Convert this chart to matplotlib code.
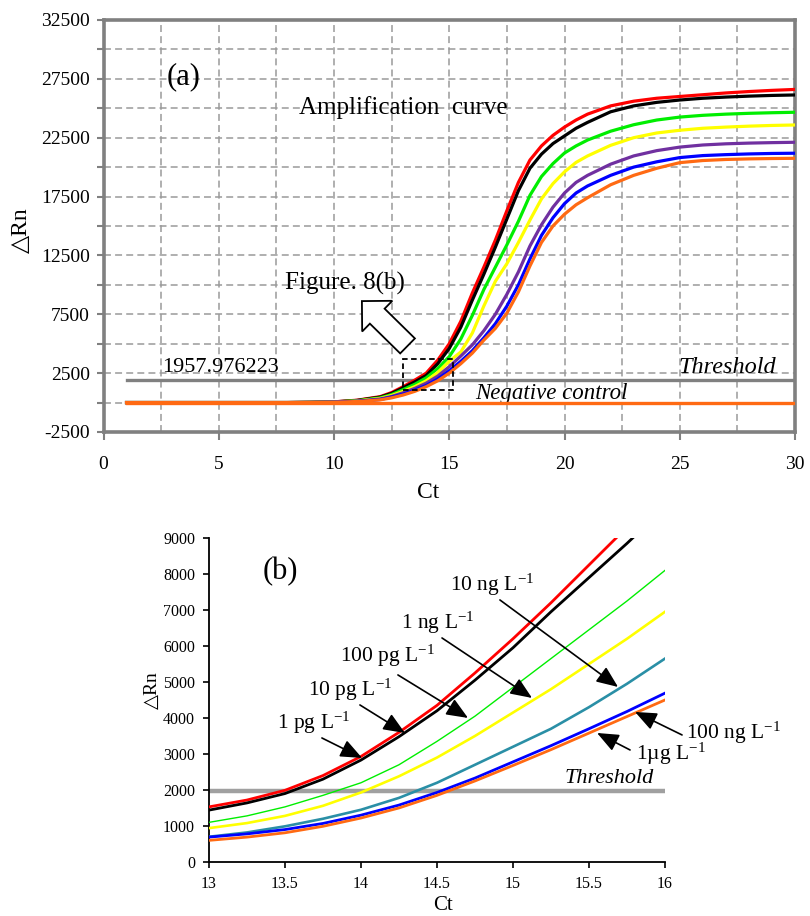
import matplotlib
matplotlib.use('Agg')
import matplotlib.pyplot as plt
from matplotlib.patches import FancyArrow, Rectangle
import numpy as np

plt.rcParams['font.family'] = ['Liberation Serif', 'DejaVu Sans']
plt.rcParams['mathtext.fontset'] = 'custom'
plt.rcParams['mathtext.rm'] = 'Liberation Serif'
plt.rcParams['mathtext.it'] = 'Liberation Serif:italic'
plt.rcParams['lines.scale_dashes'] = False
plt.rcParams['axes.unicode_minus'] = False

# ---------------- Panel (a) data ----------------
ct_a = [1, 2, 3, 4, 5, 6, 7, 8, 9, 10, 11, 12, 12.5, 13, 13.5, 14, 14.5, 15, 15.5, 16,
        16.5, 17, 17.5, 18, 18.5, 19, 19.5, 20, 20.5, 21, 22, 23, 24, 25, 26, 27, 28, 29, 30]
red_a = [0, 0, 0, 0, 0, 0, 0, 0, 20, 60, 200, 500, 850, 1350, 1900, 2500, 3600, 5000, 6900, 9300,
         11500, 13800, 16300, 18700, 20600, 21800, 22700, 23400, 24000, 24500, 25200, 25600, 25850,
         26000, 26150, 26300, 26420, 26520, 26600]
black_a = [0, 0, 0, 0, 0, 0, 0, 0, 20, 55, 180, 460, 780, 1250, 1750, 2300, 3300, 4600, 6400, 8700,
           10900, 13200, 15600, 18000, 19900, 21100, 22000, 22650, 23300, 23800, 24700, 25200, 25500,
           25700, 25850, 25950, 26030, 26090, 26130]
green_a = [0, 0, 0, 0, 0, 0, 0, 0, 15, 45, 150, 400, 680, 1100, 1550, 2100, 2900, 3900, 5400, 7400,
           9600, 11500, 13400, 15400, 17600, 19200, 20300, 21200, 21800, 22300, 23050, 23600, 24000,
           24250, 24400, 24500, 24570, 24620, 24660]
yellow_a = [0, 0, 0, 0, 0, 0, 0, 0, 12, 40, 130, 350, 600, 950, 1350, 1850, 2550, 3500, 4300, 5900,
            8200, 10300, 11800, 13600, 15500, 17300, 18600, 19600, 20400, 20950, 21850, 22500, 22900,
            23130, 23300, 23400, 23480, 23540, 23580]
purple_a = [0, 0, 0, 0, 0, 0, 0, 0, 10, 35, 110, 300, 520, 830, 1200, 1650, 2250, 3050, 3950, 4900,
            6100, 7500, 9200, 11100, 13300, 15100, 16600, 17800, 18700, 19300, 20250, 20950, 21400,
            21700, 21880, 21980, 22040, 22080, 22110]
blue_a = [0, 0, 0, 0, 0, 0, 0, 0, 8, 30, 100, 260, 460, 720, 1050, 1450, 2000, 2700, 3500, 4400,
          5500, 6700, 8200, 10000, 12200, 14200, 15700, 16900, 17800, 18400, 19300, 20000, 20450,
          20810, 20980, 21060, 21120, 21160, 21180]
orange_a = [0, 0, 0, 0, 0, 0, 0, 0, 6, 25, 90, 230, 400, 640, 950, 1350, 1850, 2500, 3300, 4200,
            5300, 6300, 7600, 9400, 11600, 13600, 15000, 16000, 16800, 17400, 18500, 19300, 19900,
            20380, 20560, 20650, 20700, 20730, 20750]
neg_ct = [1, 30]
neg_control = [0, 0]
threshold = 1957.976223

# ---------------- Panel (b) data ----------------
ct_b = [13, 13.25, 13.5, 13.75, 14, 14.25, 14.5, 14.75, 15, 15.25, 15.5, 15.75, 16]
red_b = [1530, 1720, 1990, 2400, 2930, 3600, 4350, 5250, 6200, 7200, 8250, 9300, 10400]
black_b = [1440, 1640, 1900, 2300, 2830, 3480, 4200, 5050, 5950, 6950, 7900, 8850, 9850]
green_b = [1100, 1280, 1530, 1850, 2200, 2700, 3350, 4050, 4850, 5650, 6450, 7250, 8100]
yellow_b = [940, 1080, 1280, 1560, 1930, 2380, 2900, 3500, 4150, 4800, 5500, 6200, 6950]
teal_b = [700, 820, 990, 1200, 1450, 1780, 2200, 2700, 3200, 3700, 4300, 4950, 5650]
blue_b = [690, 780, 900, 1070, 1300, 1580, 1930, 2330, 2780, 3230, 3700, 4180, 4690]
orange_b = [600, 690, 810, 990, 1220, 1500, 1850, 2250, 2680, 3120, 3580, 4040, 4500]

labels_b = ['1 pg L$^{-1}$', '10 pg L$^{-1}$', '100 pg L$^{-1}$', '1 ng L$^{-1}$',
            '10 ng L$^{-1}$', '100 ng L$^{-1}$', '1\u00b5g L$^{-1}$']
label_pos_b = [(13.45, 3860), (13.65, 4780), (13.86, 5720), (14.26, 6640),
               (14.585, 7700), (16.14, 3580), (15.81, 3000)]
arrow_tail_b = [(13.743, 3444), (13.993, 4361), (14.243, 5195), (14.533, 6222),
                (14.914, 7278), (16.112, 3528), (15.770, 3111)]
arrow_tip_b = [(14.007, 2889), (14.289, 3583), (14.704, 4000), (15.125, 4556),
               (15.691, 4861), (15.803, 4167), (15.553, 3583)]

fig = plt.figure(figsize=(8.1, 9.16), dpi=100)

# ================= Panel (a) =================
ax1 = fig.add_axes([0.1278, 0.5284, 0.8537, 0.4498])
ax1.set_xlim(0, 30)
ax1.set_ylim(-2500, 32500)
ax1.set_xticks(np.arange(0, 31, 5))
ax1.set_xticks(np.arange(2.5, 30, 5), minor=True)
ax1.set_yticks(np.arange(-2500, 32501, 5000))
ax1.set_yticks(np.arange(0, 32500, 5000), minor=True)
ax1.grid(which='both', color='#9a9a9a', linestyle=(0, (5, 3)), linewidth=1.1)
ax1.set_axisbelow(True)
for s in ax1.spines.values():
    s.set_color('#808080')
    s.set_linewidth(2.6)
ax1.tick_params(axis='x', which='major', direction='out', length=6, width=1.5,
                color='#808080', labelsize=14, pad=11)
ax1.tick_params(axis='x', which='minor', length=0)
ax1.tick_params(axis='y', which='both', direction='out', length=5, width=1.5,
                color='#808080', labelsize=14, pad=5)

series_a = [(red_a, '#ff0000'), (black_a, '#000000'), (green_a, '#00ee00'),
            (yellow_a, '#ffff00'), (purple_a, '#7030a0'), (blue_a, '#0000ff'),
            (orange_a, '#ff6a13')]
ax1.plot([neg_ct[0], neg_ct[1]], [threshold, threshold], color='#808080', lw=2.4, zorder=3)
for vals, col in series_a:
    ax1.plot(ct_a, vals, color=col, lw=2.3, zorder=4)
ax1.plot(neg_ct, neg_control, color='#ff6a13', lw=2.4, zorder=5)

ax1.text(2.74, 27720, '(a)', fontsize=22, ha='left', va='center')
ax1.text(8.5, 25080, 'Amplification  curve', fontsize=18, ha='left', va='center')
ax1.text(7.87, 10120, 'Figure. 8(b)', fontsize=18, ha='left', va='center')
ax1.text(2.54, 2980, '1957.976223', fontsize=16, ha='left', va='center')
ax1.text(24.92, 2980, 'Threshold', fontsize=17.5, style='italic', ha='left', va='center')
ax1.text(16.12, 770, 'Negative control', fontsize=16.5, style='italic', ha='left', va='center')
ax1.add_patch(Rectangle((13.0, 1030), 2.17, 2630, fill=False, edgecolor='black',
                        linestyle=(0, (4, 2.5)), lw=1.3, zorder=6))

# hollow block arrow toward panel (b)
fig.canvas.draw()
arrow_tail = (13.19, 4811)
arrow_tip = (11.21, 8619)
p = ax1.transData.transform([arrow_tail, arrow_tip]) / fig.dpi
fig.add_artist(FancyArrow(p[0, 0], p[0, 1], p[1, 0] - p[0, 0], p[1, 1] - p[0, 1],
                          width=0.21, head_width=0.43, head_length=0.215,
                          length_includes_head=True, facecolor='white', edgecolor='black',
                          lw=1.3, transform=fig.dpi_scale_trans, zorder=7))

ax1.text(0.47, -0.148, 'Ct', transform=ax1.transAxes, fontsize=17, ha='center', va='center')
ax1.text(-0.119, 0.49, '\u25b3Rn', transform=ax1.transAxes, fontsize=17, rotation=90,
         ha='center', va='center')

# ================= Panel (b) =================
ax2 = fig.add_axes([0.2580, 0.0590, 0.5630, 0.3537])
ax2.set_xlim(13, 16)
ax2.set_ylim(0, 9000)
ax2.set_xticks(np.arange(13, 16.01, 0.5))
ax2.set_xticklabels(['13', '13.5', '14', '14.5', '15', '15.5', '16'])
ax2.set_yticks(np.arange(0, 9001, 1000))
ax2.spines['top'].set_visible(False)
ax2.spines['right'].set_visible(False)
for s in ('left', 'bottom'):
    ax2.spines[s].set_linewidth(1.3)
ax2.tick_params(direction='out', length=4, width=1.2, labelsize=11.5, pad=6)

ax2.axhline(threshold, color='#a0a0a0', lw=3.2, zorder=2)
series_b = [(red_b, '#ff0000', 2.0), (black_b, '#000000', 2.0), (green_b, '#00ee00', 1.0),
            (yellow_b, '#ffff00', 1.9), (teal_b, '#2a8fa6', 1.9), (blue_b, '#0000ff', 2.0),
            (orange_b, '#ff6a13', 2.0)]
for vals, col, lw in series_b:
    ax2.plot(ct_b, vals, color=col, lw=lw, zorder=3)

ax2.text(13.355, 8080, '(b)', fontsize=22, ha='left', va='center')
ax2.text(15.34, 2306, 'Threshold', fontsize=16, style='italic', ha='left', va='center')
for lab, pos, tail, tip in zip(labels_b, label_pos_b, arrow_tail_b, arrow_tip_b):
    ax2.text(pos[0], pos[1], lab, fontsize=15.5, ha='left', va='center')
    ax2.annotate('', xy=tip, xytext=tail,
                 arrowprops=dict(arrowstyle='-|>,head_length=0.6,head_width=0.25',
                                 color='black', lw=1.2, mutation_scale=22,
                                 shrinkA=0, shrinkB=0), zorder=5)

ax2.text(0.513, -0.133, 'Ct', transform=ax2.transAxes, fontsize=15, ha='center', va='center')
ax2.text(-0.125, 0.53, '\u25b3Rn', transform=ax2.transAxes, fontsize=14, rotation=90,
         ha='center', va='center')

fig.savefig('out.png', dpi=100)
